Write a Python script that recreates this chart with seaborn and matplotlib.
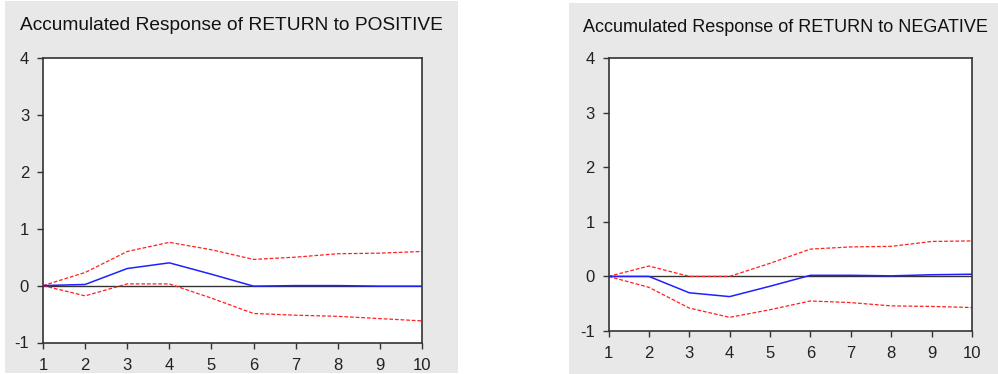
import matplotlib
matplotlib.use("Agg")
import matplotlib.pyplot as plt
import seaborn as sns
import pandas as pd
from matplotlib.patches import Rectangle

periods = [1, 2, 3, 4, 5, 6, 7, 8, 9, 10]

pos_resp = [0, 0.02, 0.30, 0.40, 0.20, -0.01, 0, 0, -0.01, -0.01]
pos_upper = [0, 0.23, 0.60, 0.76, 0.63, 0.46, 0.50, 0.56, 0.57, 0.60]
pos_lower = [0, -0.18, 0.03, 0.03, -0.22, -0.49, -0.52, -0.54, -0.58, -0.62]

neg_resp = [0, 0, -0.30, -0.37, -0.18, 0.02, 0.02, 0.01, 0.03, 0.04]
neg_upper = [0, 0.19, 0, 0, 0.24, 0.50, 0.54, 0.55, 0.64, 0.65]
neg_lower = [0, -0.20, -0.58, -0.75, -0.61, -0.45, -0.48, -0.54, -0.55, -0.57]

titles = ["Accumulated Response of RETURN to POSITIVE",
          "Accumulated Response of RETURN to NEGATIVE"]

sns.set_style("ticks")
plt.rcParams["font.family"] = ["Liberation Sans", "DejaVu Sans"]
plt.rcParams["axes.unicode_minus"] = False

fig = plt.figure(figsize=(9.98, 3.74), dpi=100)
W, H = 998, 374

# gray panels behind each graph (pixel boxes: x0, y0, x1, y1)
panels = [(5, 1, 458, 373), (569, 3, 998, 374)]
for x0, y0, x1, y1 in panels:
    fig.patches.append(Rectangle((x0 / W, 1 - y1 / H), (x1 - x0) / W, (y1 - y0) / H,
                                 transform=fig.transFigure, facecolor="#e8e8e8",
                                 edgecolor="none", zorder=-5))

axes_px = [(43, 58, 422, 342.5), (608.5, 58, 972, 331)]
title_px = [(20, 25), (583, 27)]
title_size = [13.8, 13.0]
data = [(pos_resp, pos_upper, pos_lower), (neg_resp, neg_upper, neg_lower)]

for i in range(2):
    x0, y0, x1, y1 = axes_px[i]
    ax = fig.add_axes([x0 / W, 1 - y1 / H, (x1 - x0) / W, (y1 - y0) / H])
    ax.set_zorder(1)
    ax.patch.set_facecolor("white")
    resp, upper, lower = data[i]
    df = pd.DataFrame({"period": periods, "resp": resp, "upper": upper, "lower": lower})
    ax.axhline(0, color="#333333", lw=1.0, zorder=1)
    sns.lineplot(data=df, x="period", y="upper", ax=ax, color="#ff2020", lw=0.9,
                 linestyle=(0, (3, 1.5)), zorder=2)
    sns.lineplot(data=df, x="period", y="lower", ax=ax, color="#ff2020", lw=0.9,
                 linestyle=(0, (3, 1.5)), zorder=2)
    sns.lineplot(data=df, x="period", y="resp", ax=ax, color="#2020ff", lw=1.1, zorder=3)
    ax.set_xlim(1, 10)
    ax.set_ylim(-1, 4)
    ax.set_xticks(periods)
    ax.set_yticks([-1, 0, 1, 2, 3, 4])
    ax.set_xlabel("")
    ax.set_ylabel("")
    for s in ax.spines.values():
        s.set_color("#333333")
        s.set_linewidth(1.2)
    ax.tick_params(direction="out", length=4, width=1, colors="#333333",
                   labelsize=12, labelcolor="#222222")
    ax.tick_params(axis="y", pad=6)
    ax.tick_params(axis="x", pad=7)
    tx, ty = title_px[i]
    fig.text(tx / W, 1 - ty / H, titles[i], fontsize=title_size[i], color="#111111",
             ha="left", va="center")

fig.savefig("out.png", dpi=100)
